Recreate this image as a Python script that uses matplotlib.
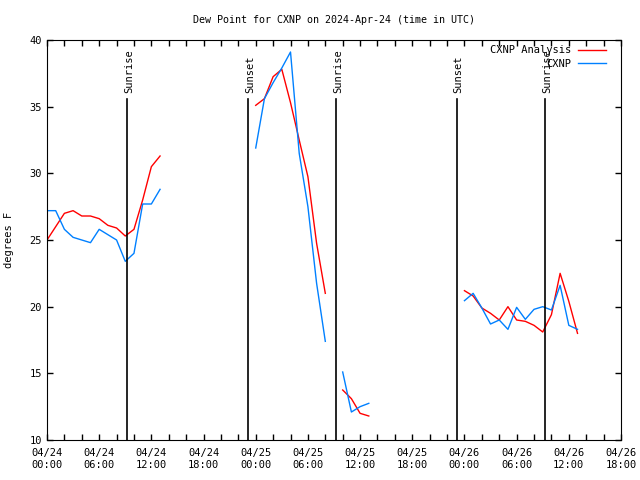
import numpy as np
import matplotlib
matplotlib.use('Agg')
import matplotlib.pyplot as plt
import matplotlib.dates as mdates
from datetime import datetime, timedelta

start = datetime(2024, 4, 24, 0, 0)

# hourly samples, hours since 04/24 00:00 (gaps = missing data)
hours = [0, 1, 2, 3, 4, 5, 6, 7, 8, 9, 10, 11, 12, 13,
         24, 25, 26, 27, 28, 29, 30, 31, 32,
         34, 35, 36, 37,
         48, 49, 50, 51, 52, 53, 54, 55, 56, 57, 58, 59, 60, 61]

analysis = [25.0, 26.0, 27.0, 27.2, 26.8, 26.8, 26.6, 26.1, 25.9, 25.3, 25.8, 28.0, 30.5, 31.3,
            35.1, 35.6, 37.25, 37.8, 35.3, 32.5, 29.75, 24.75, 21.0,
            13.75, 13.1, 12.0, 11.8,
            21.2, 20.8, 19.9, 19.5, 19.0, 20.0, 19.0, 18.9, 18.6, 18.1, 19.4, 22.5, 20.4, 18.0]

observed = [27.2, 27.2, 25.8, 25.2, 25.0, 24.8, 25.8, 25.4, 25.0, 23.4, 24.0, 27.7, 27.7, 28.8,
            31.9, 35.6, 36.8, 37.9, 39.1, 31.5, 27.5, 21.75, 17.4,
            15.1, 12.1, 12.5, 12.75,
            20.45, 21.0, 19.9, 18.7, 19.0, 18.3, 19.95, 19.05, 19.8, 20.0, 19.75, 21.6, 18.6, 18.3]

sun_labels = ['Sunrise', 'Sunset', 'Sunrise', 'Sunset', 'Sunrise']
sun_times = [datetime(2024, 4, 24, 9, 12), datetime(2024, 4, 24, 23, 7),
             datetime(2024, 4, 25, 9, 14), datetime(2024, 4, 25, 23, 8),
             datetime(2024, 4, 26, 9, 16)]


def split_runs(hrs, vals):
    # break the line wherever an hour is missing
    xs, ys = [], []
    for i, h in enumerate(hrs):
        if i > 0 and h - hrs[i - 1] > 1:
            xs.append(start + timedelta(hours=h - 0.5))
            ys.append(np.nan)
        xs.append(start + timedelta(hours=h))
        ys.append(vals[i])
    return xs, ys


plt.rcParams['font.family'] = ['DejaVu Sans Mono']
plt.rcParams['font.size'] = 7

fig = plt.figure(figsize=(6.4, 4.8), dpi=100)
ax = fig.add_axes([47 / 640, 40 / 480, 574 / 640, 400 / 480])

xa, ya = split_runs(hours, analysis)
xo, yo = split_runs(hours, observed)
ax.plot(xa, ya, color='#ff0000', lw=1.0, label='CXNP Analysis')
ax.plot(xo, yo, color='#0080ff', lw=1.0, label='CXNP')

for lab, t in zip(sun_labels, sun_times):
    ax.plot([t, t], [10, 35.6], color='black', lw=1.2)
    ax.text(t + timedelta(minutes=12), 36.0, lab, rotation=90, ha='center', va='bottom', fontsize=7.5)

ax.set_xlim(start, start + timedelta(hours=66))
ax.set_ylim(10, 40)
ax.set_yticks(np.arange(10, 41, 5))
ax.xaxis.set_major_locator(mdates.HourLocator(byhour=range(0, 24, 6)))
ax.xaxis.set_minor_locator(mdates.HourLocator(byhour=range(0, 24, 2)))
ax.xaxis.set_major_formatter(mdates.DateFormatter('%m/%d\n%H:%M'))
ax.tick_params(axis='both', which='both', direction='in', top=True, right=True, labelsize=7.5)
ax.tick_params(which='major', length=4, width=1)
ax.tick_params(which='minor', length=4, width=1)
ax.tick_params(axis='x', pad=6)

ax.set_ylabel('degrees F', fontsize=7.5, labelpad=11)
ax.set_title('Dew Point for CXNP on 2024-Apr-24 (time in UTC)', fontsize=7.2, pad=12)

leg = ax.legend(loc='upper right', bbox_to_anchor=(0.983, 1.0), frameon=False, markerfirst=False,
                fontsize=7.5, handlelength=2.7, handletextpad=0.6, labelspacing=0.35, borderaxespad=0.1)

fig.savefig('out.png', dpi=100)
